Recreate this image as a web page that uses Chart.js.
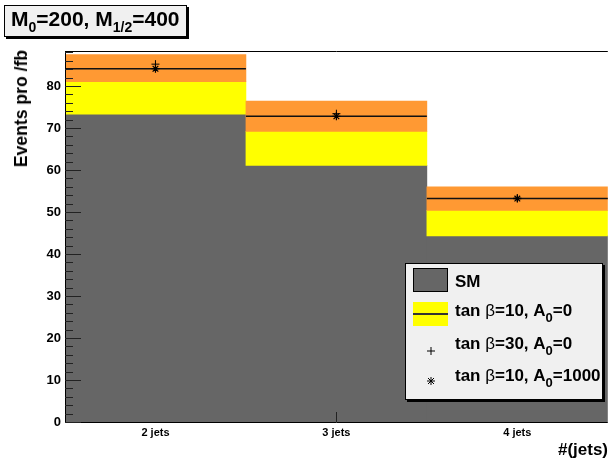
<!DOCTYPE html>
<html>
<head>
<meta charset="utf-8">
<script src="https://cdn.jsdelivr.net/npm/chart.js@4"></script>
<style>
    body { margin: 0; background: #fff; font-family: "Liberation Sans", Arial, sans-serif; }
    #wrap { position: relative; width: 610px; height: 460px; overflow: hidden; }
    #myChart { position: absolute; left: 0; top: 0; }
    .b { font-weight: bold; color: #000; position: absolute; white-space: nowrap; }
    #title { left: 4px; top: 5px; width: 183px; height: 32px; background: #f0f0f0; border: 1px solid #000;
             box-shadow: 2px 2px 0 #000; box-sizing: border-box; font-size: 21px; line-height: 26px; padding-left: 6px; }
    #title sub { font-size: 14px; vertical-align: -6px; line-height: 0; }
    #ytitle { left: 13px; top: 50px; font-size: 17.6px; line-height: 17px; writing-mode: vertical-rl; transform: rotate(180deg); }
    #xtitle { right: 2px; top: 440px; font-size: 17px; line-height: 20px; }
    #legend { left: 405px; top: 263px; width: 198px; height: 137px; background: #f0f0f0; border: 1px solid #000;
              box-shadow: 2px 2px 0 #000; box-sizing: border-box; }
    .lt { font-size: 17px; line-height: 18px; left: 49px; }
    .lt sub { font-size: 13px; vertical-align: -6px; line-height: 0; }
    .lt .g { font-weight: normal; }
</style>
</head>
<body>
<div id="wrap">
    <canvas id="myChart" width="613" height="460"></canvas>
    <div id="title" class="b">M<sub>0</sub>=200, M<sub>1/2</sub>=400</div>
    <div id="ytitle" class="b">Events pro /fb</div>
    <div id="xtitle" class="b">#(jets)</div>
    <div id="legend" class="b">
        <div style="position:absolute;left:7px;top:4px;width:35px;height:24px;background:#666;border:1px solid #000;box-sizing:border-box"></div>
        <div class="lt b" style="top:9px">SM</div>
        <div style="position:absolute;left:7px;top:38px;width:35px;height:24px;background:#ff0"></div>
        <div style="position:absolute;left:7px;top:49px;width:35px;height:1.5px;background:#333"></div>
        <div class="lt b" style="top:38px">tan <span class="g">β</span>=10, A<sub>0</sub>=0</div>
        <svg style="position:absolute;left:20px;top:82px" width="10" height="10"><path d="M5 1V9M1 5H9" stroke="#000" stroke-width="1"/></svg>
        <div class="lt b" style="top:71px">tan <span class="g">β</span>=30, A<sub>0</sub>=0</div>
        <svg style="position:absolute;left:20px;top:112px" width="10" height="10"><path d="M5 1V9M1 5H9M2 2L8 8M8 2L2 8" stroke="#000" stroke-width="1"/></svg>
        <div class="lt b" style="top:103px">tan <span class="g">β</span>=10, A<sub>0</sub>=1000</div>
    </div>
</div>
<script>
// values
const categories = ['2 jets', '3 jets', '4 jets'];
const smValues = [73.3, 61.1, 44.3];
const yellowTop = [81.0, 69.2, 50.4];
const orangeTop = [87.5, 76.4, 56.0];
const tb10Line = [84.1, 72.8, 53.2];
const tb30Points = [85.2, 73.4, 53.3];
const tb10A1000Points = [84.1, 72.8, 53.2];
const yMax = 88.33;

// horizontal line across each bin (tan beta=10, A0=0)
const binLine = {
    id: 'binLine',
    afterDatasetDraw(chart, args) {
        if (args.index !== 2) return;
        const x = chart.scales.x, y = chart.scales.y;
        const ctx = chart.ctx;
        const half = (x.getPixelForValue(1) - x.getPixelForValue(0)) / 2;
        ctx.save();
        ctx.strokeStyle = '#111';
        ctx.lineWidth = 1.5;
        tb10Line.forEach((v, i) => {
            const cx = x.getPixelForValue(i);
            const py = y.getPixelForValue(v);
            ctx.beginPath();
            ctx.moveTo(cx - half, py);
            ctx.lineTo(cx + half, py);
            ctx.stroke();
        });
        ctx.restore();
    }
};

// ROOT style frame with inward ticks
const frame = {
    id: 'frame',
    afterDatasetsDraw(chart) {
        const a = chart.chartArea, y = chart.scales.y, x = chart.scales.x;
        const ctx = chart.ctx;
        ctx.save();
        ctx.strokeStyle = '#000';
        ctx.lineWidth = 1;
        ctx.beginPath();
        ctx.moveTo(a.left + 0.5, a.top + 0.5);
        ctx.lineTo(a.right, a.top + 0.5);
        ctx.moveTo(a.left + 0.5, a.top);
        ctx.lineTo(a.left + 0.5, a.bottom + 0.5);
        ctx.lineTo(a.right, a.bottom + 0.5);
        ctx.stroke();
        ctx.strokeStyle = '#222';
        ctx.beginPath();
        for (let v = 0; v <= yMax; v += 2) {
            const py = Math.round(y.getPixelForValue(v)) + 0.5;
            const len = v % 10 === 0 ? 16 : 8;
            ctx.moveTo(a.left, py);
            ctx.lineTo(a.left + len, py);
        }
        const tx = Math.round(x.getPixelForValue(1)) + 0.5;
        ctx.moveTo(tx, a.bottom);
        ctx.lineTo(tx, a.bottom - 10);
        ctx.stroke();
        ctx.restore();
    }
};

function BuildChart() {
    var ctx = document.getElementById('myChart');
    return new Chart(ctx, {
        type: 'bar',
        data: {
            labels: categories,
            datasets: [
                { label: 'SM', data: smValues, backgroundColor: '#666666', order: 4 },
                { label: 'yellow', data: smValues.map((v, i) => [v, yellowTop[i]]), backgroundColor: '#ffff00', order: 3 },
                { label: 'orange', data: yellowTop.map((v, i) => [v, orangeTop[i]]), backgroundColor: '#ff9933', order: 2 },
                { type: 'line', label: 'tb30', data: tb30Points, showLine: false, pointStyle: 'cross',
                  pointRadius: 4, borderColor: '#000', borderWidth: 1, order: 0 },
                { type: 'line', label: 'tb10A1000', data: tb10A1000Points, showLine: false, pointStyle: 'star',
                  pointRadius: 4, borderColor: '#000', borderWidth: 1.2, order: 1 }
            ]
        },
        options: {
            responsive: false,
            animation: false,
            barPercentage: 1,
            categoryPercentage: 1,
            layout: { padding: { left: 0, top: 51, right: 0, bottom: 0 } },
            plugins: { legend: { display: false }, tooltip: { enabled: false } },
            scales: {
                x: {
                    stacked: true,
                    grid: { display: false, drawTicks: false },
                    border: { display: false },
                    ticks: { color: '#000', font: { family: 'Liberation Sans', size: 11, weight: 'bold' }, padding: 4, maxRotation: 0 },
                    afterFit: s => { s.height = 38; }
                },
                y: {
                    min: 0,
                    max: yMax,
                    grid: { display: false, drawTicks: false },
                    border: { display: false },
                    ticks: { stepSize: 10, includeBounds: false, color: '#000', padding: 4,
                             font: { family: 'Liberation Sans', size: 13, weight: 'bold' } },
                    afterFit: s => { s.width = 65; }
                }
            }
        },
        plugins: [binLine, frame]
    });
}

BuildChart();
</script>
</body>
</html>
